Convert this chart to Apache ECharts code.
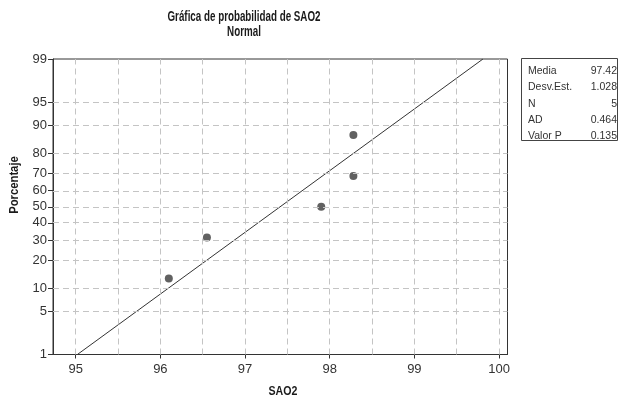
<!DOCTYPE html>
<html>
<head>
<meta charset="utf-8">
<script src="https://cdn.jsdelivr.net/npm/echarts@6/dist/echarts.min.js"></script>
<style>
  html, body { margin: 0; padding: 0; background: #fff; }
  #chart { width: 619px; height: 399px; }
</style>
</head>
<body>
<div id="chart"></div>
<script>
// datos
const sao2 = [96.1, 96.55, 97.9, 98.28, 98.28]
const porcentaje = [12.96, 31.48, 50, 68.52, 87.04]
// recta ajustada (extremos)
const ajusteX = [95.02, 99.81]
const ajusteP = [1, 99]
const yTicks = [1, 5, 10, 20, 30, 40, 50, 60, 70, 80, 90, 95, 99]
const xTicks = [95, 96, 97, 98, 99, 100]
const xGrid = [95, 95.5, 96, 96.5, 97, 97.5, 98, 98.5, 99, 99.5, 100]
const statsNames = ['Media', 'Desv.Est.', 'N', 'AD', 'Valor P']
const statsValues = ['97.42', '1.028', '5', '0.464', '0.135']

// escala de probabilidad normal: porcentaje -> z
const probit = (pct) => {
    const p = pct / 100
    const a = [-39.69683028665376, 220.9460984245205, -275.9285104469687, 138.3577518672690, -30.66479806614716, 2.506628277459239]
    const b = [-54.47609879822406, 161.5858368580409, -155.6989798598866, 66.80131188771972, -13.28068155288572]
    const c = [-0.007784894002430293, -0.3223964580411365, -2.400758277161838, -2.549732539343734, 4.374664141464968, 2.938163982698783]
    const d = [0.007784695709041462, 0.3224671290700398, 2.445134137142996, 3.754408661907416]
    const pl = 0.02425
    let q, r
    if (p < pl) {
        q = Math.sqrt(-2 * Math.log(p))
        return (((((c[0] * q + c[1]) * q + c[2]) * q + c[3]) * q + c[4]) * q + c[5]) / ((((d[0] * q + d[1]) * q + d[2]) * q + d[3]) * q + 1)
    }
    if (p > 1 - pl) {
        q = Math.sqrt(-2 * Math.log(1 - p))
        return -(((((c[0] * q + c[1]) * q + c[2]) * q + c[3]) * q + c[4]) * q + c[5]) / ((((d[0] * q + d[1]) * q + d[2]) * q + d[3]) * q + 1)
    }
    q = p - 0.5
    r = q * q
    return (((((a[0] * r + a[1]) * r + a[2]) * r + a[3]) * r + a[4]) * r + a[5]) * q / (((((b[0] * r + b[1]) * r + b[2]) * r + b[3]) * r + b[4]) * r + 1)
}

const yTickZ = yTicks.map(probit)
const labelFor = (z) => {
    let best = 0
    yTickZ.forEach((v, i) => { if (Math.abs(v - z) < Math.abs(yTickZ[best] - z)) best = i })
    return String(yTicks[best])
}

const sans = "'Liberation Sans', Arial, sans-serif"
const gridLine = { color: '#c4c4c4', type: [6, 4], width: 1 }

var myChart = echarts.init(document.getElementById('chart'))

const statsGraphics = []
statsNames.forEach((name, i) => {
    statsGraphics.push({
        type: 'text', x: 528, y: 71 + i * 16.4,
        style: { text: name, font: "10.5px " + sans, fill: '#333', verticalAlign: 'middle' }
    })
    statsGraphics.push({
        type: 'text', x: 617, y: 71 + i * 16.4,
        style: { text: statsValues[i], font: "10.5px " + sans, fill: '#333', align: 'right', verticalAlign: 'middle' }
    })
})

var option = {
    animation: false,
    grid: {
        left: 53, right: 111.5, top: 59, bottom: 44.5,
        show: true, borderColor: '#333', borderWidth: 1, backgroundColor: 'transparent'
    },
    xAxis: {
        type: 'value',
        min: 94.732,
        max: 100.1,
        axisLine: { show: true, onZero: false, lineStyle: { color: '#333' } },
        axisTick: { show: true, customValues: xTicks, length: 4, lineStyle: { color: '#333' } },
        axisLabel: { customValues: xTicks, margin: 8, fontFamily: sans, fontSize: 13, color: '#333' },
        splitLine: { show: false }
    },
    yAxis: {
        type: 'value',
        min: probit(1),
        max: probit(99),
        axisLine: { show: true, onZero: false, lineStyle: { color: '#333' } },
        axisTick: { show: true, customValues: yTickZ, length: 5, lineStyle: { color: '#333' } },
        axisLabel: { customValues: yTickZ, margin: 6, fontFamily: sans, fontSize: 13, color: '#333', formatter: labelFor },
        splitLine: { show: false }
    },
    graphic: [
        {
            type: 'text', x: 244, y: 17, scaleX: 0.7,
            style: { text: 'Gráfica de probabilidad de SAO2', font: "bold 14px " + sans, fill: '#1a1a1a', align: 'center', verticalAlign: 'middle' }
        },
        {
            type: 'text', x: 244, y: 32.5, scaleX: 0.7,
            style: { text: 'Normal', font: "bold 14px " + sans, fill: '#1a1a1a', align: 'center', verticalAlign: 'middle' }
        },
        {
            type: 'text', x: 14.5, y: 185, rotation: Math.PI / 2, scaleX: 0.9,
            style: { text: 'Porcentaje', font: "bold 12.5px " + sans, fill: '#1a1a1a', align: 'center', verticalAlign: 'middle' }
        },
        {
            type: 'text', x: 283, y: 392, scaleX: 0.85,
            style: { text: 'SAO2', font: "bold 12.5px " + sans, fill: '#1a1a1a', align: 'center', verticalAlign: 'middle' }
        },
        {
            type: 'rect', x: 521.5, y: 58.5,
            shape: { width: 96, height: 82 },
            style: { fill: '#fff', stroke: '#444', lineWidth: 1 }
        },
        ...statsGraphics
    ],
    series: [
        {
            type: 'line',
            silent: true,
            symbol: 'none',
            data: [],
            markLine: {
                silent: true,
                symbol: 'none',
                label: { show: false },
                lineStyle: gridLine,
                data: [
                    ...xGrid.map(v => ({ xAxis: v })),
                    ...yTicks.slice(1, -1).map(p => ({ yAxis: probit(p) }))
                ]
            }
        },
        {
            type: 'line',
            symbol: 'none',
            lineStyle: { color: '#333', width: 1 },
            data: ajusteX.map((x, i) => [x, probit(ajusteP[i])])
        },
        {
            type: 'scatter',
            symbolSize: 8,
            itemStyle: { color: '#3a3a3a' },
            data: sao2.map((x, i) => [x, probit(porcentaje[i])])
        }
    ]
};
myChart.setOption(option);
</script>
</body>
</html>
